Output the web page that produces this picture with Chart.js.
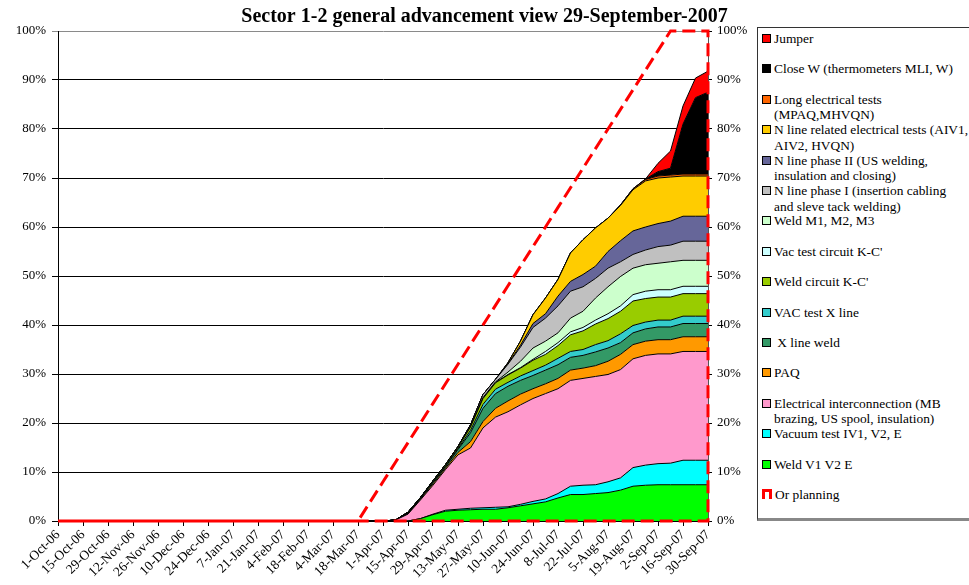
<!DOCTYPE html>
<html>
<head>
<meta charset="utf-8">
<script src="https://cdn.jsdelivr.net/npm/chart.js@4/dist/chart.umd.min.js"></script>
<style>
html,body{margin:0;padding:0;background:#fff;}
#wrap{position:relative;width:969px;height:585px;overflow:hidden;}
#c{position:absolute;left:0;top:0;}
#legend{position:absolute;left:757px;top:27px;width:230px;height:494px;border:1px solid #333;border-bottom:3px solid #888;box-sizing:border-box;font-family:"Liberation Serif",serif;font-size:13.4px;color:#000;background:#fff;}
.item{position:absolute;left:4px;line-height:15.5px;white-space:pre;display:flex;align-items:flex-start;}
.sw{width:7px;height:7px;border:1px solid #000;margin-top:3px;margin-right:3px;flex:none;}
.plan{width:4px;height:7px;border:3px solid #f00;border-bottom:none;margin-top:2px;margin-right:3px;flex:none;}
</style>
</head>
<body>
<div id="wrap"><canvas id="c" width="969" height="585"></canvas><div id="legend"></div></div>
<script>
const titleText = 'Sector 1-2 general advancement view 29-September-2007';

const weeks = ['1-Oct-06','8-Oct-06','15-Oct-06','22-Oct-06','29-Oct-06','5-Nov-06','12-Nov-06','19-Nov-06','26-Nov-06','3-Dec-06','10-Dec-06','17-Dec-06','24-Dec-06','31-Dec-06','7-Jan-07','14-Jan-07','21-Jan-07','28-Jan-07','4-Feb-07','11-Feb-07','18-Feb-07','25-Feb-07','4-Mar-07','11-Mar-07','18-Mar-07','25-Mar-07','1-Apr-07','8-Apr-07','15-Apr-07','22-Apr-07','29-Apr-07','6-May-07','13-May-07','20-May-07','27-May-07','3-Jun-07','10-Jun-07','17-Jun-07','24-Jun-07','1-Jul-07','8-Jul-07','15-Jul-07','22-Jul-07','29-Jul-07','5-Aug-07','12-Aug-07','19-Aug-07','26-Aug-07','2-Sep-07','9-Sep-07','16-Sep-07','23-Sep-07','30-Sep-07'];

// stacked series, bottom to top (values in %)
const weldV1V2E = [0,0,0,0,0,0,0,0,0,0,0,0,0,0,0,0,0,0,0,0,0,0,0,0,0,0,0,
  0,0,0.5,1.3,2.0,2.2,2.3,2.4,2.4,2.7,3.1,3.5,3.9,4.7,5.4,5.4,5.6,5.8,6.3,7.1,7.3,7.4,7.4,7.4,7.4,7.4];
const vacuumTest = [0,0,0,0,0,0,0,0,0,0,0,0,0,0,0,0,0,0,0,0,0,0,0,0,0,0,0,
  0,0,0,0.1,0.2,0.2,0.3,0.3,0.4,0.2,0.3,0.5,0.6,0.9,1.7,1.9,1.8,2.2,2.5,3.8,4.1,4.3,4.4,5.0,5.0,5.0];
const elecInterconnection = [0,0,0,0,0,0,0,0,0,0,0,0,0,0,0,0,0,0,0,0,0,0,0,0,0,0,0,
  0.2,1.4,3.8,5.9,8.3,11.1,12.3,16.3,18.4,19.4,20.3,21.0,21.5,21.4,21.6,21.8,22.1,21.9,22.1,22.2,22.4,22.4,22.3,22.2,22.2,22.2];
const paq = [0,0,0,0,0,0,0,0,0,0,0,0,0,0,0,0,0,0,0,0,0,0,0,0,0,0,0,
  0,0.1,0.2,0.3,0.3,0.5,1.3,1.3,1.8,2.2,2.2,2.0,2.0,2.1,2.1,2.1,2.2,2.7,3.1,2.9,2.9,2.9,2.9,3.0,3.0,3.0];
const xLineWeld = [0,0,0,0,0,0,0,0,0,0,0,0,0,0,0,0,0,0,0,0,0,0,0,0,0,0,0,
  0,0.1,0.1,0.3,0.3,0.6,1.8,2.7,3.0,3.0,2.8,2.7,2.8,2.8,2.6,2.6,2.8,2.7,2.4,2.4,2.5,2.6,2.6,2.7,2.7,2.7];
const vacTestXLine = [0,0,0,0,0,0,0,0,0,0,0,0,0,0,0,0,0,0,0,0,0,0,0,0,0,0,0,
  0,0.1,0.1,0.1,0.1,0.2,0.5,0.8,0.9,0.8,0.9,1.0,1.0,1.3,1.2,1.2,1.5,1.5,1.8,1.5,1.4,1.4,1.4,1.5,1.5,1.5];
const weldCircuitKC = [0,0,0,0,0,0,0,0,0,0,0,0,0,0,0,0,0,0,0,0,0,0,0,0,0,0,0,
  0,0.1,0.1,0.2,0.3,0.3,0.7,1.2,1.3,1.5,1.6,2.1,2.2,2.6,3.4,3.8,4.2,4.5,4.6,5.0,4.8,4.7,4.7,4.6,4.6,4.6];
const vacTestCircuitKC = [0,0,0,0,0,0,0,0,0,0,0,0,0,0,0,0,0,0,0,0,0,0,0,0,0,0,0,
  0,0,0,0,0,0,0,0,0.1,0.1,0.1,0.2,0.6,0.6,0.6,0.7,0.8,1.0,1.1,1.3,1.5,1.5,1.5,1.5,1.5,1.5];
const weldM123 = [0,0,0,0,0,0,0,0,0,0,0,0,0,0,0,0,0,0,0,0,0,0,0,0,0,0,0,
  0,0,0,0,0,0,0,0.2,0.1,0.5,1.3,2.3,2.1,2.0,2.8,3.3,4.5,5.5,6.0,5.4,5.4,5.4,5.7,5.3,5.3,5.3];
const nLinePhaseI = [0,0,0,0,0,0,0,0,0,0,0,0,0,0,0,0,0,0,0,0,0,0,0,0,0,0,0,
  0,0,0,0,0,0.1,0.4,0.6,0.5,1.6,2.9,4.2,4.7,5.5,5.5,5.0,4.0,3.8,3.0,2.8,3.0,3.4,3.4,3.9,3.9,3.9];
const nLinePhaseII = [0,0,0,0,0,0,0,0,0,0,0,0,0,0,0,0,0,0,0,0,0,0,0,0,0,0,0,
  0,0,0,0,0,0,0,0,0,0.1,0.4,0.8,0.9,2.0,2.0,2.5,2.5,3.4,4.3,4.8,4.7,4.7,4.9,5.1,5.1,5.1];
const nLineElecTests = [0,0,0,0,0,0,0,0,0,0,0,0,0,0,0,0,0,0,0,0,0,0,0,0,0,0,0,
  0,0,0,0,0,0,0,0,0,0.2,0.8,1.8,3.2,3.4,5.8,7.1,7.8,6.8,7.2,8.4,9.4,9.3,9.0,8.2,8.2,8.2];
const longElecTests = [0,0,0,0,0,0,0,0,0,0,0,0,0,0,0,0,0,0,0,0,0,0,0,0,0,0,0,
  0,0,0,0,0,0,0,0,0,0,0,0,0,0,0,0,0,0,0.1,0.2,0.3,0.4,0.4,0.4,0.4,0.4];
const closeW = [0,0,0,0,0,0,0,0,0,0,0,0,0,0,0,0,0,0,0,0,0,0,0,0,0,0,0,
  0,0,0,0,0,0,0,0,0,0,0,0,0,0,0,0,0,0,0,0,0.1,0.9,1.4,10.2,15.6,16.7];
const jumper = [0,0,0,0,0,0,0,0,0,0,0,0,0,0,0,0,0,0,0,0,0,0,0,0,0,0,0,
  0,0,0,0,0,0,0,0,0,0,0,0,0,0,0,0,0,0,0,0,0,1.7,3.5,3.7,4.0,4.3];

// planning line (%)
const planning = [0,0,0,0,0,0,0,0,0,0,0,0,0,0,0,0,0,0,0,0,0,0,0,0,0,4,8,
  12,16,20,24,28,32,36,40,44,48,52,56,60,64,68,72,76,80,84,88,92,96,100,100,100,100];

const seriesNames = ['Weld V1 V2 E','Vacuum test IV1, V2, E','Electrical interconnection (MB\nbrazing, US spool, insulation)','PAQ',' X line weld','VAC test X line',"Weld circuit K-C'","Vac test circuit K-C'",'Weld M1, M2, M3','N line phase I (insertion cabling\nand sleve tack welding)','N line phase II (US welding,\ninsulation and closing)','N line related electrical tests (AIV1,\nAIV2, HVQN)','Long electrical tests\n(MPAQ,MHVQN)','Close W (thermometers MLI, W)','Jumper'];
const seriesColors = ['#00FF00','#00FFFF','#FF99CC','#FF9900','#339966','#33CCCC','#99CC00','#CCFFFF','#CCFFCC','#C0C0C0','#666699','#FFCC00','#FF6600','#000000','#FF0000'];
const seriesData = [weldV1V2E,vacuumTest,elecInterconnection,paq,xLineWeld,vacTestXLine,weldCircuitKC,vacTestCircuitKC,weldM123,nLinePhaseI,nLinePhaseII,nLineElecTests,longElecTests,closeW,jumper];
const planningName = 'Or planning';

const serif = "'Liberation Serif', 'Times New Roman', serif";

const datasets = seriesData.map((d, i) => ({
  label: seriesNames[i].replace('\n', ' '),
  data: d,
  backgroundColor: seriesColors[i],
  borderColor: '#000',
  borderWidth: 1,
  fill: i === 0 ? 'origin' : '-1',
  pointRadius: 0,
  tension: 0,
  yAxisID: 'y'
}));

// planning drawn as an outlined (unfilled) area: data line, right edge, baseline
const planPts = planning.map((v, i) => ({x: weeks[i], y: v}));
planPts.push({x: weeks[weeks.length - 1], y: 0});
planPts.push({x: weeks[0], y: 0});
datasets.push({
  label: planningName,
  data: planPts,
  borderColor: '#FF0000',
  borderWidth: 3,
  borderDash: [13, 6],
  fill: false,
  pointRadius: 0,
  tension: 0,
  yAxisID: 'y2',
  order: -1,
  clip: 5
});

const chart = new Chart(document.getElementById('c'), {
  type: 'line',
  data: {labels: weeks, datasets},
  options: {
    responsive: false,
    animation: false,
    devicePixelRatio: 1,
    layout: {padding: 0},
    plugins: {
      legend: {display: false},
      tooltip: {enabled: false},
      title: {
        display: true,
        text: titleText,
        color: '#000',
        font: {family: serif, size: 20, weight: 'bold', lineHeight: 1.15},
        padding: {top: 5, bottom: 3}
      }
    },
    scales: {
      x: {
        type: 'category',
        offset: false,
        border: {color: '#000', width: 1},
        grid: {
          drawOnChartArea: false,
          tickLength: 5,
          color: ctx => (ctx.index % 2 === 0 ? '#000' : 'rgba(0,0,0,0)')
        },
        ticks: {
          autoSkip: false,
          maxRotation: 45,
          minRotation: 45,
          padding: 1,
          color: '#000',
          font: {family: serif, size: 13.5},
          callback: function (v, i) { return i % 2 === 0 ? weeks[i] : ''; }
        },
        afterFit: s => { s.height = 64; }
      },
      y: {
        stacked: true,
        min: 0, max: 100,
        border: {color: '#000', width: 1},
        grid: {
          color: ctx => (ctx.tick && ctx.tick.value === 100 ? '#8a8a8a' : '#000'),
          tickLength: 6
        },
        ticks: {
          stepSize: 10,
          padding: 6,
          color: '#000',
          font: {family: serif, size: 13},
          callback: v => v + '%'
        },
        afterFit: s => { s.width = 58; }
      },
      y2: {
        position: 'right',
        min: 0, max: 100,
        border: {color: '#555', width: 1},
        grid: {drawOnChartArea: false, tickLength: 4, color: '#000'},
        ticks: {
          stepSize: 10,
          padding: 5,
          color: '#000',
          font: {family: serif, size: 13},
          callback: v => v + '%'
        },
        afterFit: s => { s.width = 261; }
      }
    }
  }
});

// legend (top to bottom: reversed stack order, then planning)
const legendEl = document.getElementById('legend');
const items = [];
for (let i = seriesNames.length - 1; i >= 0; i--) items.push({text: seriesNames[i], color: chart.data.datasets[i].backgroundColor});
items.push({text: planningName, plan: true});
items.forEach((it, k) => {
  const row = document.createElement('div');
  row.className = 'item';
  row.style.top = (3 + 30.4 * k) + 'px';
  const sw = document.createElement('div');
  if (it.plan) { sw.className = 'plan'; }
  else { sw.className = 'sw'; sw.style.background = it.color; }
  const tx = document.createElement('span');
  tx.textContent = it.text;
  row.appendChild(sw);
  row.appendChild(tx);
  legendEl.appendChild(row);
});
</script>
</body>
</html>
